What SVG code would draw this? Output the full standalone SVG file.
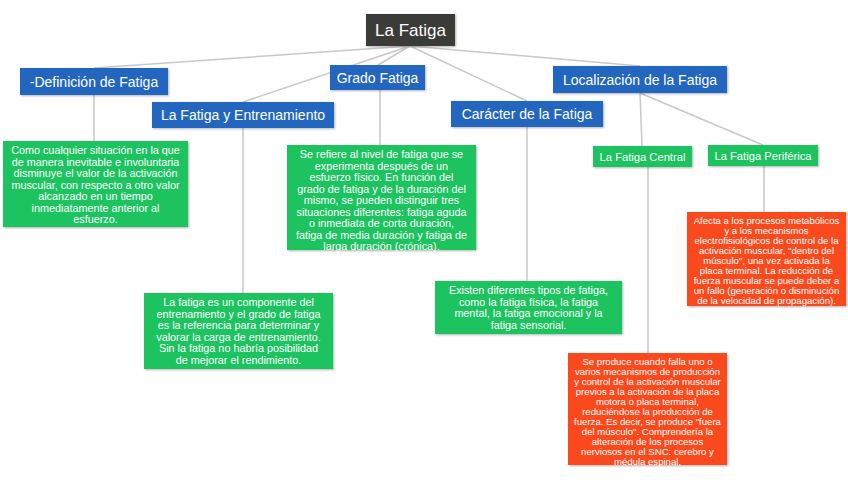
<svg xmlns="http://www.w3.org/2000/svg" width="848" height="483" viewBox="0 0 848 483">
<style>
.c{stroke:#c8c8c8;stroke-width:1.5;fill:none}
.root{fill:#3b3a38}
.h{fill:#2466c0}
.g{fill:#1ec35f}
.o{fill:#fa4a1c}
text{font-family:"Liberation Sans",Arial,sans-serif;fill:#fff;text-anchor:middle}
.th{font-size:14px}
.ts{font-size:11.2px}
.tg{font-size:10.8px}
.to{font-size:9.6px}
</style>
<defs><filter id="sh"><feDropShadow dx="1" dy="1" stdDeviation="1" flood-opacity="0.3"/></filter></defs>
<rect width="848" height="483" fill="#fff"/>
<g id="connectors">
<path class="c" d="M410 46L94 68M410 46L378 65M410 46L640 66M410 46L243 102M410 46L527 101"/>
<path class="c" d="M94 95V141M380 90V145M243 128V293M527 127V281M640 93L642 146M640 93L763 145M648 167V353M764 166V212"/>
</g>
<g id="root"><rect class="root" x="366" y="14" width="89" height="32" filter="url(#sh)"/><text x="410.5" y="36" style="font-size:17px">La Fatiga</text></g>
<g id="def"><rect class="h" x="20" y="68" width="148" height="27" filter="url(#sh)"/><text class="th" x="94" y="87">-Definición de Fatiga</text></g>
<g id="grado"><rect class="h" x="330" y="65" width="95" height="25" filter="url(#sh)"/><text class="th" x="377.5" y="83">Grado Fatiga</text></g>
<g id="loc"><rect class="h" x="553" y="66" width="174" height="27" filter="url(#sh)"/><text class="th" x="640" y="85">Localización de la Fatiga</text></g>
<g id="entr"><rect class="h" x="152" y="102" width="182" height="26" filter="url(#sh)"/><text class="th" x="243" y="120">La Fatiga y Entrenamiento</text></g>
<g id="car"><rect class="h" x="451" y="101" width="152" height="26" filter="url(#sh)"/><text class="th" x="527" y="119">Carácter de la Fatiga</text></g>
<g id="central"><rect class="g" x="593" y="146" width="99" height="21" filter="url(#sh)"/><text class="ts" x="642.5" y="160.5">La Fatiga Central</text></g>
<g id="perif"><rect class="g" x="708" y="145" width="110" height="21" filter="url(#sh)"/><text class="ts" x="763" y="159.5">La Fatiga Periférica</text></g>
<g id="defText"><rect class="g" x="3" y="141" width="185" height="86" filter="url(#sh)"/>
<text class="tg" x="95.5"><tspan x="95.5" y="154">Como cualquier situación en la que</tspan><tspan x="95.5" y="165.5">de manera inevitable e involuntaria</tspan><tspan x="95.5" y="177">disminuye el valor de la activación</tspan><tspan x="95.5" y="188.5">muscular, con respecto a otro valor</tspan><tspan x="95.5" y="200">alcanzado en un tiempo</tspan><tspan x="95.5" y="211.5">inmediatamente anterior al</tspan><tspan x="95.5" y="223">esfuerzo.</tspan></text></g>
<g id="gradoText"><rect class="g" x="287" y="145" width="189" height="105" filter="url(#sh)"/>
<text class="tg"><tspan x="381.5" y="158">Se refiere al nivel de fatiga que se</tspan><tspan x="381.5" y="169.5">experimenta después de un</tspan><tspan x="381.5" y="181">esfuerzo físico. En función del</tspan><tspan x="381.5" y="192.5">grado de fatiga y de la duración del</tspan><tspan x="381.5" y="204">mismo, se pueden distinguir tres</tspan><tspan x="381.5" y="215.5">situaciones diferentes: fatiga aguda</tspan><tspan x="381.5" y="227">o inmediata de corta duración,</tspan><tspan x="381.5" y="238.5">fatiga de media duración y fatiga de</tspan><tspan x="381.5" y="250">larga duración (crónica).</tspan></text></g>
<g id="entrText"><rect class="g" x="144" y="293" width="189" height="76" filter="url(#sh)"/>
<text class="tg"><tspan x="238.5" y="306">La fatiga es un componente del</tspan><tspan x="238.5" y="317.5">entrenamiento y el grado de fatiga</tspan><tspan x="238.5" y="329">es la referencia para determinar y</tspan><tspan x="238.5" y="340.5">valorar la carga de entrenamiento.</tspan><tspan x="238.5" y="352">Sin la fatiga no habría posibilidad</tspan><tspan x="238.5" y="363.5">de mejorar el rendimiento.</tspan></text></g>
<g id="carText"><rect class="g" x="435" y="281" width="187" height="53" filter="url(#sh)"/>
<text class="tg"><tspan x="528.5" y="294">Existen diferentes tipos de fatiga,</tspan><tspan x="528.5" y="305.5">como la fatiga física, la fatiga</tspan><tspan x="528.5" y="317">mental, la fatiga emocional y la</tspan><tspan x="528.5" y="328.5">fatiga sensorial.</tspan></text></g>
<g id="perifText"><rect class="o" x="687" y="212" width="159" height="94" filter="url(#sh)"/>
<text class="to"><tspan x="766.5" y="224">Afecta a los procesos metabólicos</tspan><tspan x="766.5" y="234">y a los mecanismos</tspan><tspan x="766.5" y="244">electrofisiológicos de control de la</tspan><tspan x="766.5" y="254">activación muscular, "dentro del</tspan><tspan x="766.5" y="264">músculo", una vez activada la</tspan><tspan x="766.5" y="274">placa terminal. La reducción de</tspan><tspan x="766.5" y="284">fuerza muscular se puede deber a</tspan><tspan x="766.5" y="294">un fallo (generación o disminución</tspan><tspan x="766.5" y="304">de la velocidad de propagación).</tspan></text></g>
<g id="centralText"><rect class="o" x="568" y="353" width="159" height="112" filter="url(#sh)"/>
<text class="to"><tspan x="647.5" y="365">Se produce cuando falla uno o</tspan><tspan x="647.5" y="375">varios mecanismos de producción</tspan><tspan x="647.5" y="385">y control de la activación muscular</tspan><tspan x="647.5" y="395">previos a la activación de la placa</tspan><tspan x="647.5" y="405">motora o placa terminal,</tspan><tspan x="647.5" y="415">reduciéndose la producción de</tspan><tspan x="647.5" y="425">fuerza. Es decir, se produce "fuera</tspan><tspan x="647.5" y="435">del músculo". Comprendería la</tspan><tspan x="647.5" y="445">alteración de los procesos</tspan><tspan x="647.5" y="455">nerviosos en el SNC: cerebro y</tspan><tspan x="647.5" y="465">médula espinal.</tspan></text></g>
</svg>
